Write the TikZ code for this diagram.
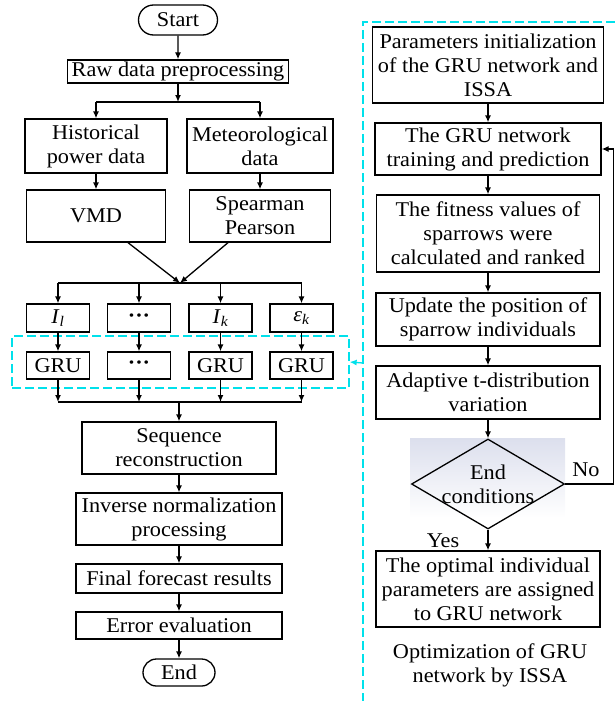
\documentclass[tikz,border=0pt]{standalone}
\usepackage{fontspec}
\setmainfont{Liberation Serif}[FakeStretch=1.06]
\usetikzlibrary{arrows.meta,shapes.geometric,shapes.misc}
\definecolor{frameblue}{RGB}{0,225,235}
\definecolor{shadegray}{RGB}{220,223,237}

\begin{document}
\begin{tikzpicture}[x=1pt, y=-1pt, line width=1.3pt,
  font=\fontsize{21}{24}\selectfont,
  box/.style={draw, fill=white, inner sep=0pt, align=center},
  term/.style={draw, fill=white, rounded rectangle, inner sep=0pt},
  cond/.style={draw, diamond, inner sep=0pt, minimum width=153pt, minimum height=90pt},
  arr/.style={-{Latex[length=7pt,width=6pt]}},
  frame/.style={frameblue, dash pattern=on 9pt off 4pt, line width=1.3pt}]
\useasboundingbox (0,0) rectangle (615,701);

% left column
\node [term, minimum width=79pt, minimum height=30pt] (start) at (178,20) {Start};
\node [box, minimum width=221pt, minimum height=23pt] (raw) at (178,71.5) {Raw data preprocessing};
\node [box, minimum width=142pt, minimum height=54pt] (hist) at (96,146) {Historical\\power data};
\node [box, minimum width=146pt, minimum height=54pt] (met) at (260,146) {Meteorological\\data};
\node [box, minimum width=139pt, minimum height=52pt] (vmd) at (96,216) {VMD};
\node [box, minimum width=141pt, minimum height=52pt] (spear) at (260,216) {Spearman\\Pearson};

\node [frame, draw, inner sep=0pt, minimum width=337pt, minimum height=52pt] (gruframe) at (180.5,362) {};

\node [box, minimum width=63pt, minimum height=28pt] (il) at (58,318) {\textit{I}\textsubscript{\textit{l}}};
\node [box, minimum width=63pt, minimum height=28pt] (idots) at (139,318) {\textbf{···}};
\node [box, minimum width=63pt, minimum height=28pt] (ik) at (220.5,318) {\textit{I}\textsubscript{\textit{k}}};
\node [box, minimum width=63pt, minimum height=28pt] (ek) at (301.5,318) {\textit{ε}\textsubscript{\textit{k}}};
\node [box, minimum width=63pt, minimum height=27pt] (gl) at (58,365.5) {GRU};
\node [box, minimum width=63pt, minimum height=27pt] (gdots) at (139,365.5) {\textbf{···}};
\node [box, minimum width=63pt, minimum height=27pt] (gk) at (220.5,365.5) {GRU};
\node [box, minimum width=63pt, minimum height=27pt] (ge) at (301.5,365.5) {GRU};

\node [box, minimum width=194pt, minimum height=52pt] (seq) at (179,448) {Sequence\\reconstruction};
\node [box, minimum width=206pt, minimum height=52pt] (inv) at (179,519) {Inverse normalization\\processing};
\node [box, minimum width=206pt, minimum height=29pt] (final) at (179,578.5) {Final forecast results};
\node [box, minimum width=206pt, minimum height=27pt] (eval) at (179,625.5) {Error evaluation};
\node [term, minimum width=72pt, minimum height=27pt] (end) at (179,672.5) {End};

\coordinate (split) at (178,102);
\coordinate (mergeA) at (180,283);
\coordinate (mergeB) at (179,402);

\draw[arr] (start) -- (raw);
\draw[arr] (raw) -- (split);
\draw (hist.north |- split) -- (met.north |- split);
\draw[arr] (hist.north |- split) -- (hist.north);
\draw[arr] (met.north |- split) -- (met.north);
\draw[arr] (hist) -- (vmd);
\draw[arr] (met) -- (spear);
\draw[arr] ([xshift=32pt]vmd.south) -- (mergeA);
\draw[arr] ([xshift=-32pt]spear.south) -- (mergeA);

\draw (il.north |- mergeA) -- (ek.north |- mergeA);
\draw[arr] (il.north |- mergeA) -- (il);
\draw[arr] (idots.north |- mergeA) -- (idots);
\draw[arr] (ik.north |- mergeA) -- (ik);
\draw[arr] (ek.north |- mergeA) -- (ek);
\draw[arr] (il) -- (gl);
\draw[arr] (idots) -- (gdots);
\draw[arr] (ik) -- (gk);
\draw[arr] (ek) -- (ge);
\draw[arr] (gl) -- (gl.south |- mergeB);
\draw[arr] (gdots) -- (gdots.south |- mergeB);
\draw[arr] (gk) -- (gk.south |- mergeB);
\draw[arr] (ge) -- (ge.south |- mergeB);
\draw (gl.south |- mergeB) -- (ge.south |- mergeB);

\draw[arr] (mergeB) -- (seq);
\draw[arr] (seq) -- (inv);
\draw[arr] (inv) -- (final);
\draw[arr] (final) -- (eval);
\draw[arr] (eval) -- (end);

% right column: ISSA
\coordinate (ftop) at (363,22);
\coordinate (fleft) at (363,363);
\draw[frame] (615,22) -- (ftop) -- (363,701);
\draw[arr, frameblue] (fleft) -- (gruframe.east);

\node [box, minimum width=231pt, minimum height=76pt] (init) at (488,65) {Parameters initialization\\of the GRU network and\\ISSA};
\node [box, minimum width=226pt, minimum height=52pt] (train) at (488,149) {The GRU network\\training and prediction};
\node [box, minimum width=223pt, minimum height=77pt] (fitness) at (488,233.5) {The fitness values of\\sparrows were\\calculated and ranked};
\node [box, minimum width=224pt, minimum height=53pt] (update) at (488,319.5) {Update the position of\\sparrow individuals};
\node [box, minimum width=224pt, minimum height=53pt] (adapt) at (488,392.5) {Adaptive t-distribution\\variation};
\shade[top color=shadegray, bottom color=white] (410,438) rectangle (565,518);
\node [cond, label={[align=center]center:End\\conditions}] (check) at (488,484) {};
\node [box, minimum width=224pt, minimum height=76pt] (optim) at (488,589) {The optimal individual\\parameters are assigned\\to GRU network};
\node [align=center] (caption) at (490,665) {Optimization of GRU\\network by ISSA};
\node (no) at (586,470) {No};
\node (yes) at (443,541) {Yes};

\coordinate (loop) at (613.5,484);
\draw[arr] (init) -- (train);
\draw[arr] (train) -- (fitness);
\draw[arr] (fitness) -- (update);
\draw[arr] (update) -- (adapt);
\draw[arr] (adapt) -- (check);
\draw[arr] (check) -- (optim);
\draw[arr] (check.east) -- (loop) |- (train.east);
\end{tikzpicture}
\end{document}
